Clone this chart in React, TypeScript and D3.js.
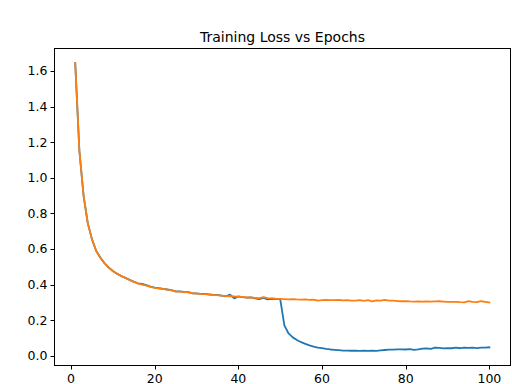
import React from 'react';
import * as d3 from 'd3';

// epochs 1..100
const epochs = d3.range(1, 101);

const blueLoss = [
  1.645, 1.15, 0.9, 0.745, 0.655, 0.59, 0.552, 0.52, 0.496, 0.476,
  0.461, 0.448, 0.437, 0.426, 0.416, 0.407, 0.403, 0.396, 0.388, 0.383,
  0.379, 0.376, 0.372, 0.368, 0.361, 0.361, 0.358, 0.357, 0.351, 0.35,
  0.347, 0.347, 0.344, 0.342, 0.341, 0.338, 0.334, 0.343, 0.322, 0.333,
  0.329, 0.326, 0.328, 0.322, 0.318, 0.325, 0.316, 0.32, 0.318, 0.318,
  0.17, 0.125, 0.103, 0.088, 0.076, 0.067, 0.058, 0.051, 0.046, 0.042,
  0.038, 0.035, 0.033, 0.031, 0.029, 0.029, 0.028, 0.028, 0.027, 0.028,
  0.027, 0.029, 0.027, 0.03, 0.032, 0.034, 0.034, 0.036, 0.036, 0.035,
  0.037, 0.033, 0.036, 0.04, 0.041, 0.038, 0.045, 0.044, 0.041, 0.043,
  0.042, 0.045, 0.042, 0.046, 0.044, 0.045, 0.043, 0.045, 0.045, 0.047,
];

const orangeLoss = [
  1.645, 1.15, 0.9, 0.745, 0.655, 0.59, 0.55, 0.52, 0.494, 0.475,
  0.46, 0.447, 0.437, 0.425, 0.415, 0.405, 0.4, 0.394, 0.387, 0.381,
  0.378, 0.375, 0.371, 0.367, 0.36, 0.36, 0.357, 0.356, 0.351, 0.349,
  0.347, 0.346, 0.344, 0.341, 0.34, 0.338, 0.335, 0.334, 0.333, 0.331,
  0.33, 0.327, 0.327, 0.325, 0.323, 0.329, 0.324, 0.322, 0.32, 0.319,
  0.318, 0.316, 0.318, 0.316, 0.315, 0.316, 0.314, 0.315, 0.309, 0.312,
  0.313, 0.312, 0.312, 0.313, 0.311, 0.312, 0.31, 0.309, 0.312, 0.308,
  0.312, 0.305, 0.311, 0.31, 0.314, 0.309, 0.31, 0.307, 0.306, 0.307,
  0.305, 0.304, 0.305, 0.304, 0.305, 0.304, 0.305, 0.306, 0.304, 0.302,
  0.303, 0.303, 0.301, 0.3, 0.307, 0.302, 0.301, 0.307, 0.303, 0.299,
];

const xTicks = [0, 20, 40, 60, 80, 100];
const yTicks = [0.0, 0.2, 0.4, 0.6, 0.8, 1.0, 1.2, 1.4, 1.6];

const width = 512;
const height = 384;
const box = { left: 54.5, top: 48.5, right: 510.5, bottom: 365.5 };
const font = '"DejaVu Sans", sans-serif';

export default function App() {
  const x = d3.scaleLinear().domain([-3.95, 105.05]).range([box.left, box.right]);
  const y = d3.scaleLinear().domain([-0.055, 1.726]).range([box.bottom, box.top]);

  const line = d3
    .line<number>()
    .x((_, i) => x(epochs[i]))
    .y((d) => y(d));

  return (
    <svg
      width={width}
      height={height}
      viewBox={`0 0 ${width} ${height}`}
      style={{ position: 'fixed', left: 0, top: 0, background: '#fff' }}
    >
      <rect x={0} y={0} width={width} height={height} fill="#fff" />

      <text
        x={(box.left + box.right) / 2}
        y={41.7}
        textAnchor="middle"
        fontFamily={font}
        fontSize={14}
        fill="#000"
      >
        Training Loss vs Epochs
      </text>

      {/* lines */}
      <path d={line(blueLoss) || ''} fill="none" stroke="#1f77b4" strokeWidth={1.8} strokeLinejoin="round" strokeLinecap="square" />
      <path d={line(orangeLoss) || ''} fill="none" stroke="#ff7f0e" strokeWidth={1.8} strokeLinejoin="round" strokeLinecap="square" />

      {/* y axis ticks */}
      {yTicks.map((t) => (
        <g key={'y' + t}>
          <line x1={box.left - 4} x2={box.left} y1={Math.round(y(t)) + 0.5} y2={Math.round(y(t)) + 0.5} stroke="#000" strokeWidth={1} />
          <text
            x={box.left - 7}
            y={y(t)}
            dy="0.36em"
            textAnchor="end"
            fontFamily={font}
            fontSize={12.5}
            fill="#000"
          >
            {t.toFixed(1)}
          </text>
        </g>
      ))}

      {/* x axis ticks */}
      {xTicks.map((t) => (
        <g key={'x' + t}>
          <line x1={Math.round(x(t)) + 0.5} x2={Math.round(x(t)) + 0.5} y1={box.bottom} y2={box.bottom + 4} stroke="#000" strokeWidth={1} />
          <text
            x={x(t)}
            y={382.5}
            textAnchor="middle"
            fontFamily={font}
            fontSize={12.5}
            fill="#000"
          >
            {t}
          </text>
        </g>
      ))}

      {/* frame */}
      <rect
        x={box.left}
        y={box.top}
        width={box.right - box.left}
        height={box.bottom - box.top}
        fill="none"
        stroke="#000"
        strokeWidth={1}
      />
    </svg>
  );
}
